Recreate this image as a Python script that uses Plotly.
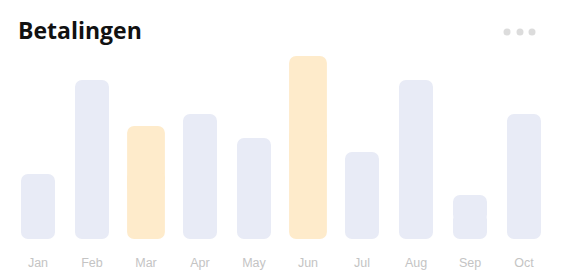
import plotly.graph_objects as go

months = ["Jan", "Feb", "Mar", "Apr", "May", "Jun", "Jul", "Aug", "Sep", "Oct"]
values = [65, 159, 113, 125, 101, 183, 87, 159, 44, 125]
highlight = ["Mar", "Jun"]

blue = "#e8ebf6"
orange = "#feebcb"

W, H = 561, 279
ML, MR, MT, MB = 11, 10, 50, 40
PW, PH = W - ML - MR, H - MT - MB

fig = go.Figure()

def add_group(names, color, width):
    vals = [values[months.index(m)] for m in names]
    # upper part (rounded top)
    fig.add_trace(go.Bar(x=names, y=[v * 0.6 for v in vals], base=[v * 0.4 for v in vals],
                         marker=dict(color=color, line=dict(width=0)), width=width,
                         hoverinfo="skip", showlegend=False))
    # lower part (rounded bottom)
    fig.add_trace(go.Bar(x=names, y=[-v * 0.6 for v in vals], base=[v * 0.6 for v in vals],
                         marker=dict(color=color, line=dict(width=0)), width=width,
                         hoverinfo="skip", showlegend=False))

normal = [m for m in months if m not in highlight]
add_group(normal, blue, 0.63)
add_group(highlight, orange, 0.70)

def px_x(p):
    return (p - ML) / PW

def px_y(p):
    return (H - MB - p) / PH

shapes = []
for cx in [507, 520, 532]:
    r = 3.5
    shapes.append(dict(type="circle", xref="paper", yref="paper",
                       x0=px_x(cx - r), x1=px_x(cx + r), y0=px_y(32 + r), y1=px_y(32 - r),
                       fillcolor="#dcdcdc", line=dict(width=0)))

fig.update_layout(
    width=W, height=H,
    margin=dict(l=ML, r=MR, t=MT, b=MB),
    paper_bgcolor="white", plot_bgcolor="white",
    barmode="overlay",
    bargap=0.37,
    shapes=shapes,
    title=dict(text="<b>Betalingen</b>", x=18 / W, xanchor="left", xref="container",
               y=1 - 31 / H, yanchor="middle", yref="container",
               font=dict(family="Open Sans", size=23, color="#111111")),
    xaxis=dict(categoryorder="array", categoryarray=months, showgrid=False, zeroline=False,
               showline=False, ticks="outside", ticklen=12, tickcolor="rgba(0,0,0,0)",
               tickfont=dict(family="Liberation Sans", size=12.5, color="#c4c4c4"),
               fixedrange=True),
    yaxis=dict(range=[0, PH], visible=False, fixedrange=True),
    barcornerradius=7,
)

fig.write_html("out.html", config={"displayModeBar": False})
